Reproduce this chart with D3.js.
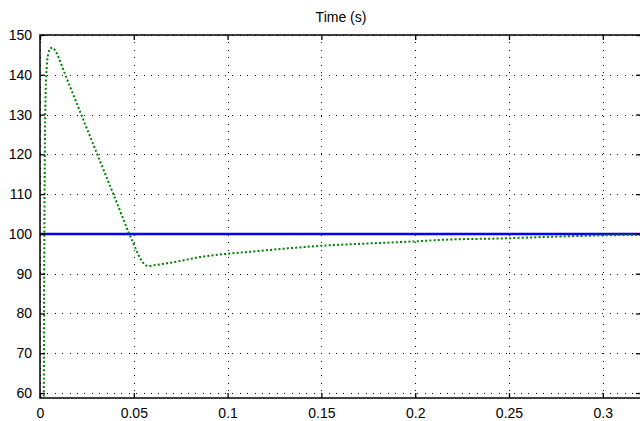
<!DOCTYPE html>
<html>
<head>
<meta charset="utf-8">
<script src="https://cdn.jsdelivr.net/npm/d3@7"></script>
<style>
  html, body { margin: 0; padding: 0; background: #fff; }
  svg { display: block; }
</style>
</head>
<body>
<div id="chart"></div>
<script>
// ── Data ──────────────────────────────────────────────────────
const timeS = [
  0.0018, 0.0020, 0.0022, 0.0025, 0.0030, 0.0036, 0.0045, 0.0055, 0.0065, 0.0080,
  0.0100, 0.0125, 0.0145, 0.0180, 0.0278, 0.0385, 0.0425, 0.0473, 0.0500, 0.0518,
  0.0536, 0.0557, 0.0575, 0.0607, 0.0660, 0.0713, 0.0767, 0.0856, 0.0998, 0.1140,
  0.1280, 0.1495, 0.1750, 0.1990, 0.2135, 0.2490, 0.2670, 0.3090, 0.3250
];
const speed = [
  0, 50, 85, 115, 135, 142, 145.5, 146.6, 146.8, 146.2,
  144.2, 141.2, 138.8, 134.7, 123.2, 110.7, 106.0, 100.3, 97.4, 95.4,
  93.7, 92.4, 91.9, 92.1, 92.5, 92.9, 93.4, 94.2, 95.0, 95.6,
  96.2, 97.0, 97.6, 98.1, 98.5, 98.9, 99.2, 99.7, 99.8
];
const refTime  = [0, 0.33];
const refValue = [100, 100];

const xTicks = [0, 0.05, 0.1, 0.15, 0.2, 0.25, 0.3];
const yTicks = [60, 70, 80, 90, 100, 110, 120, 130, 140, 150];
const xDomain = [0, 0.3209];
const yDomain = [58.75, 150];

(function () {
  'use strict';

  const W = 640, H = 421;
  const L = 40, R = 642, T = 35, B = 398;   // plot box (right edge is cut off)
  const FONT = '"Liberation Sans", Arial, Helvetica, sans-serif';

  const svg = d3.select('#chart').append('svg')
    .attr('width', W).attr('height', H);

  svg.append('rect').attr('width', W).attr('height', H).attr('fill', '#fff');

  const x = d3.scaleLinear().domain(xDomain).range([L, R]);
  const y = d3.scaleLinear().domain(yDomain).range([B, T]);

  svg.append('defs').append('clipPath').attr('id', 'plot-clip')
    .append('rect').attr('x', L).attr('y', T).attr('width', R - L).attr('height', B - T);

  // ── Grid ───────────────────────────────────────────────────────
  const grid = svg.append('g')
    .attr('stroke', '#000')
    .attr('stroke-width', 1)
    .attr('stroke-dasharray', '1,6.4')
    .attr('shape-rendering', 'crispEdges');

  grid.selectAll('line.v').data(xTicks).join('line')
    .attr('class', 'v')
    .attr('x1', d => Math.round(x(d)) + 0.5).attr('x2', d => Math.round(x(d)) + 0.5)
    .attr('y1', T).attr('y2', B);

  grid.selectAll('line.h').data(yTicks).join('line')
    .attr('class', 'h')
    .attr('y1', d => Math.round(y(d)) + 0.5).attr('y2', d => Math.round(y(d)) + 0.5)
    .attr('x1', L).attr('x2', R);

  // ── Series ─────────────────────────────────────────────────────
  const plot = svg.append('g').attr('clip-path', 'url(#plot-clip)');

  const line = d3.line().x(d => x(d[0])).y(d => y(d[1]));

  plot.append('path')
    .datum(refTime.map((t, i) => [t, refValue[i]]))
    .attr('d', line)
    .attr('fill', 'none')
    .attr('stroke', '#0000ff')
    .attr('stroke-width', 2.5);

  plot.append('path')
    .datum(timeS.map((t, i) => [t, speed[i]]))
    .attr('d', line.curve(d3.curveMonotoneX))
    .attr('fill', 'none')
    .attr('stroke', '#008000')
    .attr('stroke-width', 2)
    .attr('stroke-dasharray', '2,2.2');

  // ── Axes ───────────────────────────────────────────────────────
  const axes = svg.append('g');

  function styleAxis(g) {
    g.select('.domain').remove();
    g.selectAll('.tick line').attr('stroke', '#000').attr('stroke-width', 1.3);
    g.selectAll('.tick text')
      .attr('fill', '#000')
      .attr('font-family', FONT)
      .attr('font-size', '14px');
  }

  axes.append('g')
    .attr('transform', `translate(0,${B})`)
    .call(d3.axisBottom(x).tickValues(xTicks).tickSizeInner(-5).tickSizeOuter(0)
      .tickPadding(10).tickFormat(d3.format('~g')))
    .call(styleAxis);

  axes.append('g')
    .attr('transform', `translate(0,${T})`)
    .call(d3.axisTop(x).tickValues(xTicks).tickSizeInner(-5).tickSizeOuter(0).tickFormat(''))
    .call(styleAxis);

  axes.append('g')
    .attr('transform', `translate(${L},0)`)
    .call(d3.axisLeft(y).tickValues(yTicks).tickSizeInner(-5).tickSizeOuter(0).tickPadding(8))
    .call(styleAxis);

  axes.append('g')
    .attr('transform', `translate(${R},0)`)
    .call(d3.axisRight(y).tickValues(yTicks).tickSizeInner(-6).tickSizeOuter(0).tickFormat(''))
    .call(styleAxis);

  // box
  svg.append('rect')
    .attr('x', L).attr('y', T).attr('width', R - L).attr('height', B - T)
    .attr('fill', 'none').attr('stroke', '#000').attr('stroke-width', 1.5);

  // ── Title ──────────────────────────────────────────────────────
  svg.append('text')
    .attr('x', (L + R) / 2)
    .attr('y', 22)
    .attr('text-anchor', 'middle')
    .attr('font-family', FONT)
    .attr('font-size', '14px')
    .attr('fill', '#000')
    .text('Time (s)');
})();
</script>
</body>
</html>
